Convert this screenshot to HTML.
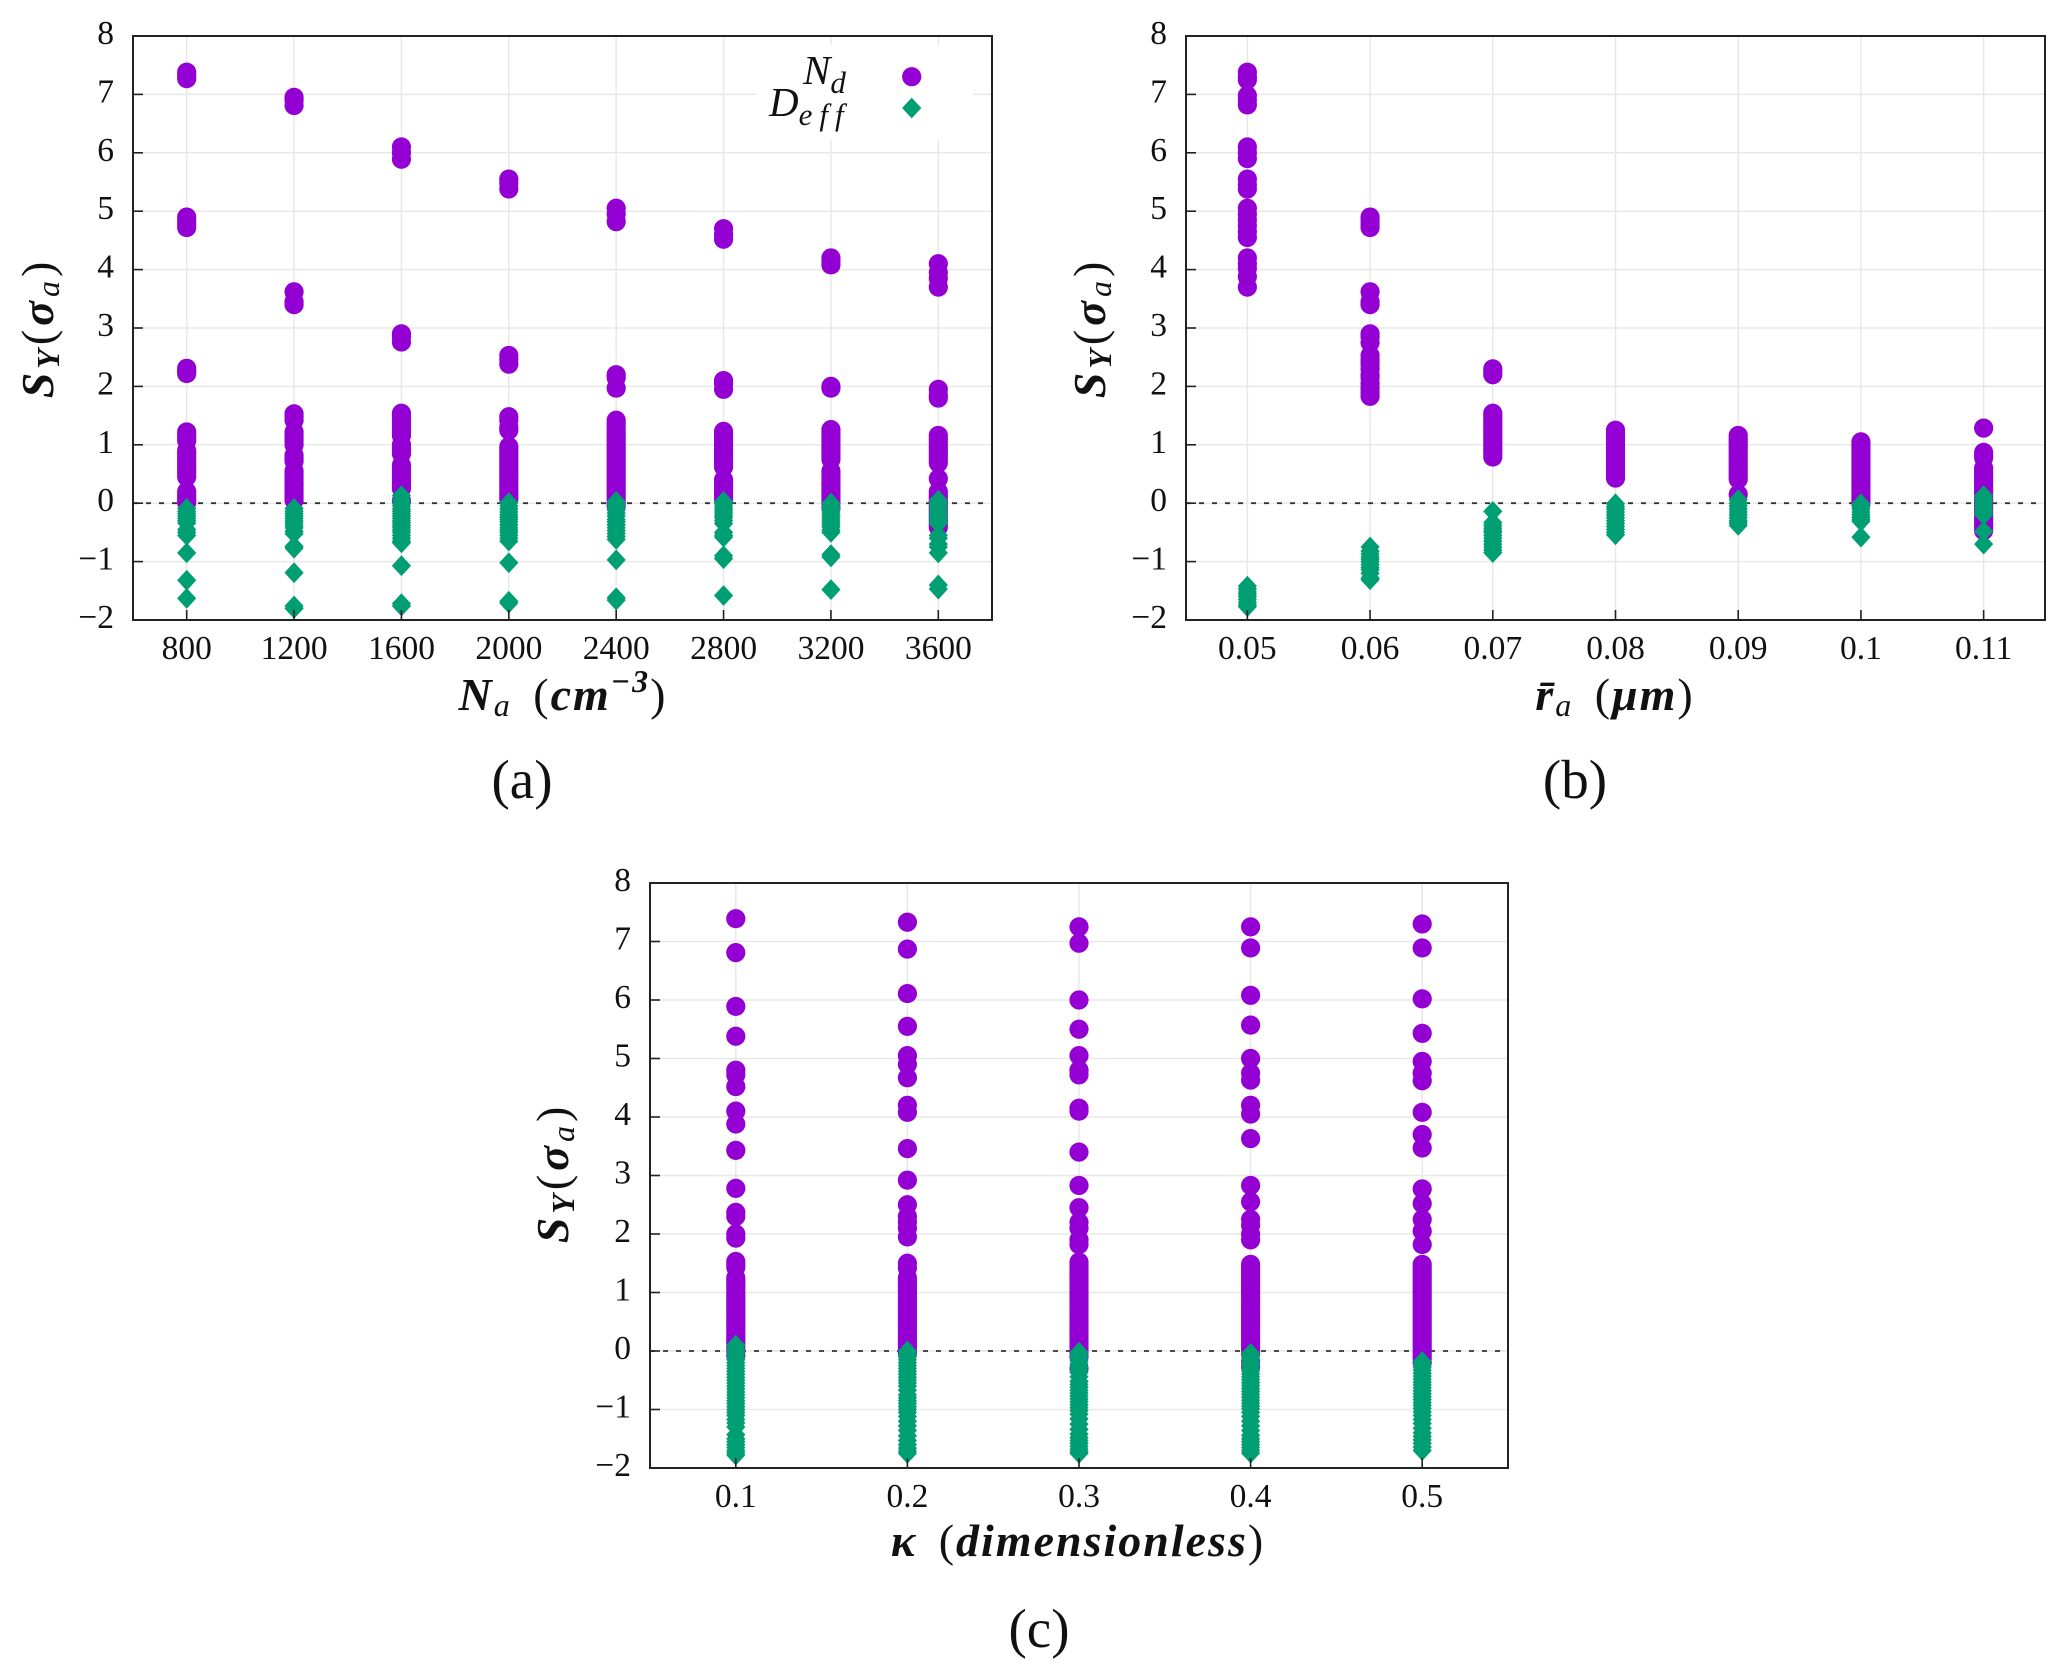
<!DOCTYPE html>
<html lang="en">
<head>
<meta charset="utf-8">
<title>Sensitivity of Nd and Deff to aerosol parameters</title>
<style>
html,body{margin:0;padding:0;background:#fff;}
svg{display:block;}
text{font-family:"Liberation Serif",serif;fill:#111;}
.title{font-size:46px;font-weight:bold;font-style:italic;letter-spacing:2px;word-spacing:8px;}
.y-title{letter-spacing:4px;}
.sub{font-size:32px;}
.plain-sub{font-size:32px;font-weight:normal;}
.upright{font-style:normal;font-weight:normal;}
.tick{font-size:33.5px;}
.caption{font-size:55px;}
.legend{font-size:41px;font-style:italic;}
.legend-sub{font-size:31px;font-style:italic;}
</style>
</head>
<body>
<svg id="figure" xmlns="http://www.w3.org/2000/svg" width="2067" height="1677" viewBox="0 0 2067 1677">
  <rect x="0" y="0" width="2067" height="1677" fill="#fff"/>
  <g id="panel-a"></g>
  <g id="panel-b"></g>
  <g id="panel-c"></g>

  <g>
    <rect x="756" y="45" width="217" height="95" fill="#fff"/>
    <text x="803" y="84"><tspan class="legend">N</tspan><tspan class="legend-sub" dy="9">d</tspan></text>
    <text x="769" y="116"><tspan class="legend">D</tspan><tspan class="legend-sub" dy="9" letter-spacing="7">eff</tspan></text>
    <circle cx="911.7" cy="76.7" r="9.6" fill="#9400d3"/>
    <polygon points="911.7,97.6 921.3,108 911.7,118.4 902.1,108" fill="#009e73"/>
  </g>

  <text class="title y-title" transform="translate(53,328) rotate(-90)" text-anchor="middle">S<tspan class="sub" dy="6">Y</tspan><tspan class="upright" dy="-6">(</tspan>σ<tspan class="plain-sub" dy="6">a</tspan><tspan class="upright" dy="-6">)</tspan></text>
  <text class="title" x="563" y="710" text-anchor="middle">N<tspan class="plain-sub" dy="6">a</tspan><tspan dy="-6"> </tspan><tspan class="upright">(</tspan>cm<tspan class="sub" dy="-18">−3</tspan><tspan class="upright" dy="18">)</tspan></text>
  <text class="caption" x="522" y="798" text-anchor="middle">(a)</text>

  <text class="title y-title" transform="translate(1105,328) rotate(-90)" text-anchor="middle">S<tspan class="sub" dy="6">Y</tspan><tspan class="upright" dy="-6">(</tspan>σ<tspan class="plain-sub" dy="6">a</tspan><tspan class="upright" dy="-6">)</tspan></text>
  <text class="title" x="1615" y="710" text-anchor="middle">r̄<tspan class="plain-sub" dy="6">a</tspan><tspan dy="-6"> </tspan><tspan class="upright">(</tspan>μm<tspan class="upright">)</tspan></text>
  <text class="caption" x="1575" y="798" text-anchor="middle">(b)</text>

  <text class="title y-title" transform="translate(568,1173) rotate(-90)" text-anchor="middle">S<tspan class="sub" dy="6">Y</tspan><tspan class="upright" dy="-6">(</tspan>σ<tspan class="plain-sub" dy="6">a</tspan><tspan class="upright" dy="-6">)</tspan></text>
  <text class="title" x="1078" y="1556" text-anchor="middle" letter-spacing="2.5">κ <tspan class="upright">(</tspan>dimensionless<tspan class="upright">)</tspan></text>
  <text class="caption" x="1039" y="1647" text-anchor="middle">(c)</text>
</svg>

<script>
const yTickValues = [-2, -1, 0, 1, 2, 3, 4, 5, 6, 7, 8];
const yTickLabels = ['−2', '−1', '0', '1', '2', '3', '4', '5', '6', '7', '8'];

const panelACategories = [800, 1200, 1600, 2000, 2400, 2800, 3200, 3600];
const panelALabels = ['800', '1200', '1600', '2000', '2400', '2800', '3200', '3600'];
const panelANd = [
  [7.38, 7.33, 7.27, 4.9, 4.85, 4.78, 4.72, 2.31, 2.26, 2.22, 1.22, 1.17, 1.12, 1.07, 0.9, 0.85, 0.8, 0.75, 0.7, 0.65, 0.6, 0.55, 0.5, 0.45, 0.2, 0.15, 0.1, 0.05, 0.01],
  [6.95, 6.9, 6.81, 3.62, 3.45, 3.4, 1.53, 1.48, 1.42, 1.22, 1.17, 1.12, 1.06, 1.0, 0.82, 0.77, 0.72, 0.55, 0.5, 0.45, 0.4, 0.35, 0.3, 0.25, 0.2, 0.15, 0.1, 0.05],
  [6.1, 6.0, 5.89, 2.9, 2.85, 2.76, 1.54, 1.49, 1.44, 1.39, 1.34, 1.28, 1.22, 1.16, 1.0, 0.95, 0.9, 0.85, 0.65, 0.6, 0.55, 0.5, 0.45, 0.4, 0.35, 0.3, 0.25, 0.04],
  [5.55, 5.48, 5.38, 2.53, 2.46, 2.38, 1.48, 1.42, 1.3, 1.25, 0.97, 0.92, 0.87, 0.82, 0.77, 0.72, 0.67, 0.62, 0.57, 0.52, 0.47, 0.42, 0.37, 0.32, 0.27, 0.22, 0.17, 0.12, 0.07],
  [5.05, 4.95, 4.82, 2.2, 2.15, 1.97, 1.42, 1.37, 1.32, 1.26, 1.2, 1.15, 1.1, 1.05, 1.0, 0.95, 0.9, 0.85, 0.8, 0.75, 0.7, 0.65, 0.6, 0.55, 0.5, 0.45, 0.4, 0.35, 0.3, 0.25, 0.2, 0.15, 0.1, 0.05, 0.0, -0.05],
  [4.7, 4.6, 4.52, 2.1, 2.05, 1.95, 1.23, 1.18, 1.13, 1.08, 1.03, 0.98, 0.93, 0.88, 0.83, 0.78, 0.73, 0.68, 0.62, 0.4, 0.35, 0.3, 0.25, 0.2, 0.15, 0.1, 0.05],
  [4.2, 4.15, 4.08, 2.0, 1.97, 1.26, 1.21, 1.16, 1.11, 1.06, 1.0, 0.95, 0.9, 0.85, 0.8, 0.75, 0.55, 0.5, 0.45, 0.4, 0.35, 0.3, 0.25, 0.2, 0.15, 0.1, 0.05, 0.0, -0.08],
  [4.1, 3.95, 3.85, 3.7, 1.95, 1.85, 1.8, 1.16, 1.11, 1.06, 1.0, 0.95, 0.9, 0.85, 0.8, 0.75, 0.69, 0.42, 0.2, 0.15, 0.1, 0.05, 0.0, -0.05, -0.1, -0.15, -0.2, -0.25, -0.3, -0.36, -0.41]
];
const panelADeff = [
  [-0.09, -0.14, -0.18, -0.22, -0.26, -0.3, -0.34, -0.45, -0.5, -0.55, -0.85, -1.32, -1.63],
  [-0.09, -0.14, -0.18, -0.22, -0.26, -0.3, -0.34, -0.38, -0.42, -0.48, -0.52, -0.74, -0.77, -1.19, -1.76, -1.8],
  [0.13, 0.05, 0.0, -0.05, -0.1, -0.14, -0.18, -0.22, -0.26, -0.3, -0.34, -0.38, -0.42, -0.46, -0.5, -0.55, -0.6, -0.65, -0.68, -1.07, -1.72, -1.76],
  [0.01, -0.05, -0.1, -0.15, -0.2, -0.24, -0.28, -0.32, -0.37, -0.42, -0.46, -0.5, -0.55, -0.6, -0.65, -1.02, -1.68, -1.71],
  [0.03, -0.02, -0.07, -0.12, -0.17, -0.22, -0.28, -0.32, -0.37, -0.42, -0.47, -0.52, -0.57, -0.62, -0.97, -1.62, -1.66],
  [0.03, -0.01, -0.05, -0.09, -0.13, -0.17, -0.21, -0.25, -0.3, -0.35, -0.5, -0.55, -0.58, -0.9, -0.95, -1.58],
  [0.0, -0.05, -0.09, -0.13, -0.17, -0.21, -0.25, -0.29, -0.33, -0.37, -0.41, -0.46, -0.5, -0.88, -0.92, -1.48],
  [0.05, 0.0, -0.04, -0.08, -0.12, -0.16, -0.2, -0.24, -0.28, -0.32, -0.35, -0.55, -0.6, -0.7, -0.75, -0.85, -1.4, -1.47]
];

const panelBCategories = [0.05, 0.06, 0.07, 0.08, 0.09, 0.1, 0.11];
const panelBLabels = ['0.05', '0.06', '0.07', '0.08', '0.09', '0.1', '0.11'];
const panelBNd = [
  [7.38, 7.3, 7.25, 6.98, 6.9, 6.82, 6.1, 6.0, 5.9, 5.55, 5.45, 5.38, 5.05, 4.95, 4.85, 4.75, 4.65, 4.55, 4.2, 4.1, 4.02, 3.88, 3.7],
  [4.9, 4.85, 4.78, 4.72, 3.62, 3.45, 3.4, 2.9, 2.85, 2.75, 2.53, 2.45, 2.38, 2.3, 2.2, 2.15, 2.05, 1.97, 1.9, 1.83],
  [2.3, 2.25, 2.2, 1.54, 1.5, 1.45, 1.4, 1.35, 1.3, 1.25, 1.2, 1.15, 1.1, 1.05, 1.0, 0.95, 0.9, 0.85, 0.79],
  [1.25, 1.2, 1.15, 1.1, 1.05, 1.0, 0.95, 0.9, 0.85, 0.8, 0.75, 0.7, 0.65, 0.6, 0.55, 0.48, 0.43],
  [1.16, 1.11, 1.06, 1.01, 0.96, 0.91, 0.86, 0.81, 0.76, 0.71, 0.66, 0.61, 0.56, 0.51, 0.46, 0.41, 0.15],
  [1.05, 1.0, 0.95, 0.9, 0.85, 0.8, 0.75, 0.7, 0.65, 0.6, 0.55, 0.5, 0.45, 0.4, 0.35, 0.3, 0.25, 0.2, 0.15, 0.1, 0.05, 0.0],
  [1.286, 0.87, 0.82, 0.78, 0.6, 0.55, 0.5, 0.45, 0.4, 0.35, 0.3, 0.25, 0.2, 0.15, 0.1, 0.05, 0.0, -0.05, -0.1, -0.15, -0.2, -0.25, -0.3, -0.35, -0.4, -0.47]
];
const panelBDeff = [
  [-1.42, -1.47, -1.52, -1.56, -1.6, -1.65, -1.7, -1.74, -1.77],
  [-0.75, -0.82, -0.87, -0.92, -0.96, -1.0, -1.05, -1.1, -1.14, -1.2, -1.28, -1.31],
  [-0.14, -0.33, -0.38, -0.43, -0.47, -0.5, -0.55, -0.6, -0.65, -0.7, -0.75, -0.8, -0.846],
  [-0.01, -0.06, -0.1, -0.15, -0.2, -0.25, -0.3, -0.35, -0.4, -0.45, -0.5, -0.54],
  [0.06, 0.0, -0.05, -0.1, -0.15, -0.2, -0.25, -0.3, -0.34, -0.38],
  [-0.01, -0.06, -0.1, -0.15, -0.2, -0.24, -0.28, -0.31, -0.58],
  [0.13, 0.08, 0.03, -0.02, -0.07, -0.12, -0.16, -0.2, -0.48, -0.7]
];

const panelCCategories = [0.1, 0.2, 0.3, 0.4, 0.5];
const panelCLabels = ['0.1', '0.2', '0.3', '0.4', '0.5'];
const panelCNd = [
  [7.39, 6.81, 5.89, 5.38, 4.8, 4.72, 4.52, 4.1, 3.88, 3.43, 2.78, 2.37, 2.3, 2.0, 1.93, 1.53, 1.48, 1.43, 1.25, 1.2, 1.15, 1.1, 1.05, 1.0, 0.95, 0.9, 0.85, 0.8, 0.75, 0.7, 0.65, 0.6, 0.55, 0.5, 0.45, 0.4, 0.35, 0.3, 0.25, 0.2, 0.15, 0.1, 0.05, 0.0, -0.08],
  [7.33, 6.87, 6.11, 5.55, 5.05, 4.9, 4.67, 4.2, 4.08, 3.46, 2.92, 2.5, 2.3, 2.2, 2.1, 1.95, 1.5, 1.42, 1.25, 1.2, 1.15, 1.1, 1.05, 1.0, 0.95, 0.9, 0.85, 0.8, 0.75, 0.7, 0.65, 0.6, 0.55, 0.5, 0.45, 0.4, 0.35, 0.3, 0.25, 0.2, 0.15, 0.1, 0.05, 0.0, -0.04],
  [7.25, 6.97, 6.0, 5.5, 5.05, 4.8, 4.72, 4.15, 4.1, 3.4, 2.83, 2.45, 2.2, 2.1, 1.9, 1.82, 1.52, 1.47, 1.42, 1.37, 1.32, 1.27, 1.22, 1.17, 1.12, 1.07, 1.02, 0.97, 0.92, 0.87, 0.82, 0.77, 0.72, 0.67, 0.62, 0.57, 0.52, 0.47, 0.42, 0.37, 0.32, 0.27, 0.22, 0.17, 0.12, 0.07, 0.02, -0.03, -0.1, -0.3],
  [7.25, 6.89, 6.08, 5.57, 5.0, 4.75, 4.63, 4.2, 4.05, 3.63, 2.83, 2.55, 2.25, 2.15, 2.0, 1.9, 1.48, 1.43, 1.38, 1.33, 1.28, 1.23, 1.18, 1.13, 1.08, 1.03, 0.98, 0.93, 0.88, 0.83, 0.78, 0.73, 0.68, 0.63, 0.58, 0.53, 0.48, 0.43, 0.38, 0.33, 0.28, 0.23, 0.18, 0.13, 0.08, 0.03, -0.05, -0.18, -0.27],
  [7.3, 6.89, 6.02, 5.43, 4.95, 4.75, 4.62, 4.08, 3.7, 3.47, 2.77, 2.52, 2.25, 2.05, 1.82, 1.48, 1.43, 1.38, 1.33, 1.28, 1.23, 1.18, 1.13, 1.08, 1.03, 0.98, 0.93, 0.88, 0.83, 0.78, 0.73, 0.68, 0.63, 0.58, 0.53, 0.48, 0.43, 0.38, 0.33, 0.28, 0.23, 0.18, 0.13, 0.08, 0.03, -0.02, -0.07, -0.12, -0.2]
];
const panelCDeff = [
  [0.1, 0.05, 0.0, -0.05, -0.1, -0.15, -0.2, -0.25, -0.3, -0.35, -0.4, -0.45, -0.5, -0.55, -0.6, -0.65, -0.7, -0.75, -0.8, -0.85, -0.9, -0.95, -1.0, -1.05, -1.1, -1.17, -1.23, -1.3, -1.43, -1.5, -1.55, -1.6, -1.65, -1.7, -1.74, -1.78],
  [0.0, -0.05, -0.1, -0.15, -0.2, -0.25, -0.3, -0.35, -0.4, -0.45, -0.5, -0.55, -0.6, -0.67, -0.75, -0.8, -0.85, -0.9, -0.95, -1.0, -1.05, -1.12, -1.2, -1.28, -1.36, -1.45, -1.53, -1.6, -1.66, -1.71, -1.75],
  [-0.02, -0.07, -0.12, -0.17, -0.22, -0.27, -0.32, -0.37, -0.44, -0.52, -0.57, -0.62, -0.67, -0.72, -0.77, -0.82, -0.87, -0.92, -0.97, -1.02, -1.08, -1.16, -1.25, -1.34, -1.42, -1.48, -1.53, -1.58, -1.63, -1.68, -1.72, -1.75],
  [-0.04, -0.09, -0.14, -0.19, -0.24, -0.29, -0.34, -0.39, -0.44, -0.49, -0.54, -0.59, -0.64, -0.69, -0.74, -0.79, -0.84, -0.89, -0.94, -0.99, -1.05, -1.12, -1.2, -1.28, -1.36, -1.44, -1.5, -1.55, -1.6, -1.65, -1.7, -1.745],
  [-0.18, -0.23, -0.28, -0.33, -0.38, -0.43, -0.48, -0.53, -0.58, -0.63, -0.68, -0.73, -0.78, -0.83, -0.88, -0.93, -0.98, -1.04, -1.1, -1.17, -1.24, -1.32, -1.4, -1.46, -1.52, -1.58, -1.64, -1.7]
];

const SVG_NS = 'http://www.w3.org/2000/svg';

function makeNode(parent, tag, attrs) {
  const el = document.createElementNS(SVG_NS, tag);
  for (const key in attrs) el.setAttribute(key, attrs[key]);
  parent.appendChild(el);
  return el;
}

function drawPanel(id, frame, xMin, xMax, categories, labels, ndValues, deffValues) {
  const group = document.getElementById(id);
  const xScale = v => frame.left + (v - xMin) / (xMax - xMin) * (frame.right - frame.left);
  const yScale = v => frame.bottom - (v - (-2)) / 10 * (frame.bottom - frame.top);

  yTickValues.forEach(function (v, i) {
    const line = makeNode(group, 'line', {x1: frame.left, x2: frame.right, y1: yScale(v), y2: yScale(v), stroke: '#e8e8e8', 'stroke-width': 1.5});
    
    
  });
  categories.forEach(function (c) {
    const line = makeNode(group, 'line', {x1: xScale(c), x2: xScale(c), y1: frame.top, y2: frame.bottom, stroke: '#e8e8e8', 'stroke-width': 1.5});
    
    
  });

  const zero = makeNode(group, 'line', {x1: frame.left, x2: frame.right, y1: yScale(0), y2: yScale(0), stroke: '#333', 'stroke-width': 1.8, 'stroke-dasharray': '5 8'});
  
  

  ndValues.forEach(function (values, i) {
    values.forEach(function (v) {
      const dot = makeNode(group, 'circle', {cx: xScale(categories[i]), cy: yScale(v), r: 9.6, fill: '#9400d3'});
      
      
    });
  });
  deffValues.forEach(function (values, i) {
    values.forEach(function (v) {
      const x = xScale(categories[i]);
      const y = yScale(v);
      const diamond = makeNode(group, 'polygon', {points: x + ',' + (y - 10.4) + ' ' + (x + 9.6) + ',' + y + ' ' + x + ',' + (y + 10.4) + ' ' + (x - 9.6) + ',' + y, fill: '#009e73'});
      
      
    });
  });

  yTickValues.forEach(function (v, i) {
    const tick = makeNode(group, 'line', {x1: frame.left, x2: frame.left + 10, y1: yScale(v), y2: yScale(v), stroke: '#222', 'stroke-width': 1.6});
    
    
    const label = makeNode(group, 'text', {x: frame.left - 19, y: yScale(v) + 8, 'text-anchor': 'end', class: 'tick'});
    label.textContent = yTickLabels[i];
    
    
  });
  categories.forEach(function (c, i) {
    const tick = makeNode(group, 'line', {x1: xScale(c), x2: xScale(c), y1: frame.bottom, y2: frame.bottom - 10, stroke: '#222', 'stroke-width': 1.6});
    
    
    const label = makeNode(group, 'text', {x: xScale(c), y: frame.bottom + 39, 'text-anchor': 'middle', class: 'tick'});
    label.textContent = labels[i];
    
    
  });

  const border = makeNode(group, 'rect', {x: frame.left, y: frame.top, width: frame.right - frame.left, height: frame.bottom - frame.top, fill: 'none', stroke: '#222', 'stroke-width': 2});
  
  
}

drawPanel('panel-a', {left: 133, right: 992, top: 36, bottom: 620}, 600, 3800, panelACategories, panelALabels, panelANd, panelADeff);
drawPanel('panel-b', {left: 1186, right: 2045, top: 36, bottom: 620}, 0.045, 0.115, panelBCategories, panelBLabels, panelBNd, panelBDeff);
drawPanel('panel-c', {left: 650, right: 1508, top: 883, bottom: 1468}, 0.05, 0.55, panelCCategories, panelCLabels, panelCNd, panelCDeff);
</script>
</body>
</html>
